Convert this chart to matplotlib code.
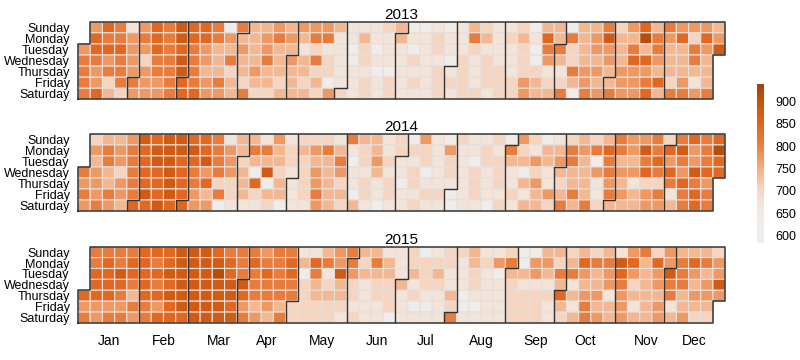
import datetime as dt
import numpy as np
import matplotlib
matplotlib.use('Agg')
import matplotlib.pyplot as plt
from matplotlib.colors import LinearSegmentedColormap

plt.rcParams['font.family'] = ['Liberation Sans', 'DejaVu Sans']

years = [2013, 2014, 2015]
day_names = ['Sunday', 'Monday', 'Tuesday', 'Wednesday', 'Thursday', 'Friday', 'Saturday']
month_names = ['Jan', 'Feb', 'Mar', 'Apr', 'May', 'Jun', 'Jul', 'Aug', 'Sep', 'Oct', 'Nov', 'Dec']

# colour level of every cell, one string per weekday row,
# one character per week column (weeks 0-18, 19-35, 36-52); '.' = no day
# value = level_base + level_step * level
level_base = 600
level_step = 35

levels_2013 = [
    '.576257687761644545' '55422234112124322' '31441446357465554',
    '.766567687765445654' '66224224223226423' '42746458449657375',
    '5777557676544545442' '32213122123223222' '31663455464644658',
    '6656536686546446454' '63213222322132322' '3154344547754464.',
    '6566556686443454444' '33222112223232332' '3322655455544444.',
    '6536655676564344343' '41223232323332333' '5433454455673524.',
    '6743555677554633444' '35323232223233233' '5446165655746656.',
]

levels_2014 = [
    '.344587887762442523' '33264423152132231' '53123434655636767',
    '.565678888765466434' '56423423332522326' '32446567658678569',
    '.465678877865344433' '44603532232320334' '45456416446756567',
    '6543677876565418323' '54522422302323232' '13244456557675877',
    '5545677876733471423' '54323231322223232' '4523442542336765.',
    '6565687875463434423' '64413232233123223' '2454642654562676.',
    '5654778775512223122' '54342122322122132' '4436463444554676.',
]

levels_2015 = [
    '.666677788876665662' '24564422302334223' '11443434256354443',
    '.676776788887676674' '76563642333324356' '15534766874756765',
    '.778777888897667671' '62854442434223214' '45466545754586545',
    '.777676788888866663' '43432334233223223' '22242445634566458',
    '7776477888888766663' '44432332322412223' '33374552544464555',
    '5555665788887545433' '33322232112311223' '3324264452452444.',
    '6566567778888654633' '33232202222622223' '3323465454454533.',
]

year_levels = [levels_2013, levels_2014, levels_2015]


def sun0(d):
    return (d.weekday() + 1) % 7


def col_of(d):
    jan1 = dt.date(d.year, 1, 1)
    return ((d - jan1).days + sun0(jan1)) // 7


def to_grid(year, rows):
    g = np.full((7, 53), np.nan)
    d = dt.date(year, 1, 1)
    while d.year == year:
        r, c = sun0(d), col_of(d)
        s = rows[r].ljust(53, '.')
        if s[c] != '.':
            g[r, c] = level_base + level_step * int(s[c])
        d += dt.timedelta(days=1)
    return np.ma.masked_invalid(g)


cmap = LinearSegmentedColormap.from_list('cal', [
    (0.00, '#eeeeee'), (0.19, '#f1ebe7'), (0.33, '#f6d8c5'), (0.47, '#f2ae82'),
    (0.61, '#e98144'), (0.75, '#df651c'), (0.89, '#c4540e'), (1.00, '#9e4308')])
vmin, vmax = 583, 940

fig = plt.figure(figsize=(8, 3.6), dpi=100)
panel_pos = [[0.0975, 0.724, 0.809, 0.2156],
             [0.0975, 0.414, 0.809, 0.214],
             [0.0975, 0.1028, 0.809, 0.212]]

for i, year in enumerate(years):
    ax = fig.add_axes(panel_pos[i])
    grid = to_grid(year, year_levels[i])
    mesh = ax.pcolor(np.arange(54), np.arange(8), grid, cmap=cmap, vmin=vmin, vmax=vmax,
                     edgecolors='#e6dfda', linewidth=0.8)

    # month boundaries
    for m in range(2, 13):
        d = dt.date(year, m, 1)
        c, w = col_of(d), sun0(d)
        if w == 0:
            ax.plot([c, c], [0, 7], color='#333333', lw=1)
        else:
            ax.plot([c + 1, c + 1, c, c], [0, w, w, 7], color='#333333', lw=1)

    # year outline
    w0 = sun0(dt.date(year, 1, 1))
    we = sun0(dt.date(year, 12, 31))
    ce = col_of(dt.date(year, 12, 31))
    ax.plot([0, 0, 1, 1, ce + 1, ce + 1, ce, ce, 0],
            [7, w0, w0, 0, 0, we + 1, we + 1, 7, 7], color='#333333', lw=1.1, clip_on=False)

    ax.set_xlim(0, 53)
    ax.set_ylim(7, 0)
    for s in ax.spines.values():
        s.set_visible(False)
    ax.set_yticks(np.arange(7) + 0.5)
    ax.set_yticklabels(day_names, fontsize=9)
    ax.tick_params(length=0, pad=6)
    ax.set_title(str(year), fontsize=11, pad=2)

    if i == 2:
        centers = []
        for m in range(1, 13):
            first = col_of(dt.date(year, m, 1))
            if m < 12:
                last = col_of(dt.date(year, m + 1, 1) - dt.timedelta(days=1))
            else:
                last = col_of(dt.date(year, 12, 31))
            centers.append((first + last) / 2 + 0.5)
        ax.set_xticks(centers)
        ax.set_xticklabels(month_names, fontsize=10)
        ax.tick_params(axis='x', pad=8)
    else:
        ax.set_xticks([])

cax = fig.add_axes([0.946, 0.325, 0.009, 0.442])
cb = fig.colorbar(mesh, cax=cax)
cb.set_ticks([600, 650, 700, 750, 800, 850, 900])
cb.outline.set_visible(False)
cax.tick_params(length=0, labelsize=9, pad=8)

fig.savefig('out.png', dpi=100)
